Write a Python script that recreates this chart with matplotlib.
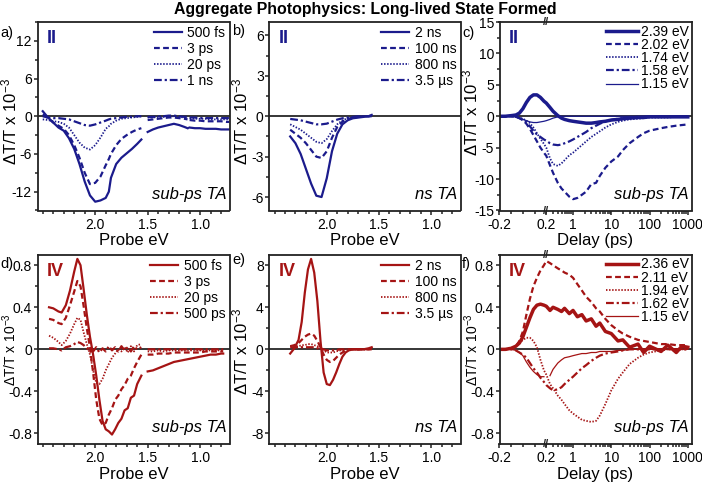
import numpy as np
import matplotlib
matplotlib.use('Agg')
import matplotlib.pyplot as plt
from matplotlib.ticker import FixedLocator, MultipleLocator, NullFormatter, FixedFormatter
import matplotlib.transforms as mtrans

plt.rcParams['font.family'] = ['Liberation Sans', 'DejaVu Sans']
plt.rcParams['mathtext.fontset'] = 'custom'
plt.rcParams['mathtext.rm'] = 'Liberation Sans'
plt.rcParams['mathtext.it'] = 'Liberation Sans:italic'
plt.rcParams['axes.unicode_minus'] = False

nan = np.nan
BLUE = '#1b1b8c'
RED = '#a51414'

# ---------------- data ----------------
# panel a (II, sub-ps TA spectra)
Ea = [2.50, 2.45, 2.40, 2.35, 2.30, 2.25, 2.20, 2.15, 2.10, 2.05, 2.00, 1.95, 1.90, 1.87, 1.85, 1.80, 1.75, 1.70, 1.65, 1.60, 1.56,
      nan, 1.50, 1.45, 1.40, 1.35, 1.30, 1.25, 1.20, 1.15, 1.12,
      nan, 1.10, 1.05, 1.00, 0.95, 0.90, 0.85, 0.80, 0.75, 0.72]
a_500fs = [0.8, -0.2, -1.0, -1.8, -2.3, -3.5, -5.2, -7.6, -10.4, -12.6, -13.6, -13.4, -13.0, -12.0, -9.8, -7.6, -6.6, -5.9, -5.2, -4.4, -3.7,
           nan, -2.5, -2.1, -1.8, -1.6, -1.4, -1.2, -1.4, -1.7, -1.9,
           nan, -1.8, -1.9, -1.9, -2.0, -2.0, -2.0, -2.1, -2.1, -2.1]
a_3ps = [0.3, -0.3, -1.0, -1.5, -2.0, -3.0, -4.6, -6.6, -9.0, -10.8, -10.6, -9.6, -7.8, -6.8, -6.0, -4.6, -3.6, -3.0, -2.5, -2.1, -1.9,
         nan, -0.6, -0.5, -0.4, -0.3, -0.2, -0.2, -0.3, -0.4, -0.5,
         nan, -0.6, -0.7, -0.7, -0.8, -0.8, -0.8, -0.8, -0.9, -0.9]
a_20ps = [-0.5, -0.6, -0.8, -0.9, -1.2, -1.8, -3.0, -4.2, -5.0, -5.3, -4.6, -3.4, -2.0, -1.6, -1.2, -0.7, -0.4, -0.3, -0.2, -0.1, 0.0,
          nan, -0.2, -0.2, -0.1, -0.1, 0.0, 0.0, -0.1, -0.2, -0.2,
          nan, -0.3, -0.4, -0.4, -0.4, -0.5, -0.5, -0.5, -0.5, -0.5]
a_1ns = [0.0, -0.2, -0.3, -0.3, -0.4, -0.5, -0.8, -1.1, -1.4, -1.5, -1.3, -1.0, -0.7, -0.5, -0.4, -0.3, -0.2, -0.1, -0.1, 0.0, 0.0,
         nan, -0.1, -0.1, 0.0, 0.0, 0.1, 0.1, 0.0, -0.1, -0.1,
         nan, -0.2, -0.2, -0.3, -0.3, -0.3, -0.3, -0.3, -0.3, -0.3]
a_labels = ['500 fs', '3 ps', '20 ps', '1 ns']

# panel b (II, ns TA spectra)
Eb = [2.35, 2.30, 2.25, 2.20, 2.15, 2.10, 2.05, 2.00, 1.95, 1.90, 1.85, 1.80, 1.75, 1.70, 1.65, 1.60, 1.57]
b_2ns = [-1.5, -2.0, -2.8, -3.9, -5.0, -5.9, -6.0, -4.6, -2.6, -1.3, -0.6, -0.3, -0.15, -0.1, -0.05, 0.0, 0.1]
b_100ns = [-1.0, -1.3, -1.6, -2.0, -2.5, -3.0, -3.1, -2.6, -1.6, -0.8, -0.4, -0.2, -0.1, -0.05, 0.0, 0.0, 0.05]
b_800ns = [-0.6, -0.8, -1.0, -1.3, -1.6, -1.9, -2.0, -1.7, -1.1, -0.6, -0.3, -0.15, -0.1, -0.05, 0.0, 0.0, 0.0]
b_3p5us = [-0.2, -0.25, -0.3, -0.4, -0.5, -0.6, -0.6, -0.55, -0.4, -0.25, -0.15, -0.1, -0.05, 0.0, 0.0, 0.0, 0.0]
b_labels = ['2 ns', '100 ns', '800 ns', '3.5 µs']

# panel c (II, kinetics)
tc = [-0.2, -0.15, -0.1, -0.06, -0.03, 0.0, 0.03, 0.06, 0.09, 0.12, 0.15, 0.18, 0.2, 0.25, 0.3, 0.4, 0.5, 0.6, 0.8, 1.0,
      1.3, 1.7, 2.2, 3, 4, 5, 7, 10, 15, 20, 30, 50, 70, 100, 200, 300, 500, 700, 1000]
c_239 = [0, 0, 0.1, 0.2, 0.5, 1.2, 2.2, 3.0, 3.4, 3.4, 3.0, 2.4, 2.1, 1.4, 0.8, 0.1, -0.3, -0.5, -0.7, -0.8,
         -0.9, -1.0, -1.1, -1.1, -1.0, -0.9, -0.8, -0.6, -0.5, -0.4, -0.3, -0.2, -0.2, -0.1, -0.1, -0.1, -0.1, -0.1, -0.1]
c_202 = [0, 0, 0, -0.1, -0.3, -0.6, -1.2, -2.0, -3.0, -4.0, -5.0, -5.8, -6.3, -7.8, -9.0, -10.6, -11.5, -12.0, -12.8, -13.2,
         -13.0, -12.5, -12.0, -10.8, -10.6, -9.5, -8.2, -7.2, -6.4, -5.4, -4.3, -3.3, -2.7, -2.3, -1.9, -1.7, -1.5, -1.4, -1.3]
c_174 = [0, 0, 0, -0.1, -0.2, -0.4, -0.7, -1.1, -1.8, -2.7, -3.6, -4.4, -5.0, -6.7, -7.6, -7.9, -7.5, -7.0, -6.2, -5.8,
         -5.2, -4.6, -4.0, -3.3, -2.8, -2.4, -1.8, -1.3, -0.9, -0.7, -0.5, -0.4, -0.3, -0.2, -0.2, -0.2, -0.1, -0.1, -0.1]
c_158 = [0, 0, 0, -0.1, -0.3, -0.6, -1.0, -1.6, -2.3, -2.9, -3.3, -3.7, -3.9, -4.3, -4.5, -4.6, -4.5, -4.3, -4.0, -3.7,
         -3.3, -2.9, -2.5, -1.9, -1.5, -1.2, -0.8, -0.6, -0.4, -0.3, -0.2, -0.1, -0.1, 0, 0, 0, 0, 0, 0]
c_115 = [0, 0, 0, -0.1, -0.3, -0.5, -0.7, -0.9, -1.0, -1.0, -0.9, -0.8, -0.7, -0.5, -0.3, -0.1, 0, 0, 0, 0,
         0, 0, 0, 0, 0, 0, 0, 0, 0, 0, 0, 0, 0, 0, 0, 0, 0, 0, 0]
c_labels = ['2.39 eV', '2.02 eV', '1.74 eV', '1.58 eV', '1.15 eV']

# panel d (IV, sub-ps TA spectra)
Ed = [2.44, 2.40, 2.35, 2.32, 2.28, 2.24, 2.20, 2.17, 2.14, 2.11, 2.08, 2.05, 2.02, 1.99, 1.96, 1.93, 1.90, 1.87, 1.84, 1.81,
      1.78, 1.75, 1.72, 1.69, 1.66, 1.63, 1.60, 1.56,
      nan, 1.50, 1.45, 1.40, 1.35, 1.30, 1.25, 1.20, 1.15, 1.10, 1.05, 1.00, 0.95, 0.90, 0.85, 0.80, 0.78]
d_500fs = [0.40, 0.39, 0.36, 0.35, 0.42, 0.56, 0.74, 0.86, 0.80, 0.57, 0.33, 0.12, -0.05, -0.25, -0.48, -0.68, -0.76, -0.78, -0.81, -0.76,
           -0.70, -0.66, -0.58, -0.56, -0.46, -0.44, -0.33, -0.25,
           nan, -0.21, -0.20, -0.18, -0.16, -0.14, -0.12, -0.11, -0.10, -0.09, -0.08, -0.07, -0.06, -0.05, -0.05, -0.04, -0.04]
d_3ps = [0.29, 0.28, 0.25, 0.24, 0.30, 0.42, 0.55, 0.65, 0.60, 0.41, 0.20, 0.02, -0.22, -0.48, -0.66, -0.72, -0.70, -0.62, -0.56, -0.48,
         -0.44, -0.38, -0.34, -0.28, -0.25, -0.18, -0.12, -0.05,
         nan, -0.05, -0.05, -0.04, -0.04, -0.04, -0.03, -0.03, -0.03, -0.03, -0.03, -0.03, -0.02, -0.02, -0.02, -0.02, -0.02]
d_20ps = [0.13, 0.11, 0.07, 0.04, 0.08, 0.15, 0.24, 0.30, 0.28, 0.16, 0.05, -0.05, -0.20, -0.32, -0.33, -0.28, -0.20, -0.14, -0.08, -0.04,
          0.00, -0.02, 0.02, -0.03, 0.03, -0.02, 0.04, 0.05,
          nan, -0.02, -0.02, -0.01, -0.02, -0.01, -0.01, -0.01, -0.01, -0.01, -0.01, -0.01, -0.01, -0.01, -0.01, -0.01, -0.01]
d_500ps = [0.01, 0.01, 0.00, -0.01, 0.02, 0.03, 0.05, 0.07, 0.06, 0.04, 0.01, -0.01, -0.02, 0.02, -0.03, 0.01, -0.02, 0.03, -0.01, 0.02,
           -0.02, 0.03, -0.01, 0.02, -0.02, 0.03, 0.00, 0.02,
           nan, 0.00, 0.00, 0.00, 0.00, 0.00, 0.00, 0.00, 0.00, 0.00, 0.00, 0.00, 0.00, 0.00, 0.00, 0.00, 0.00]
d_labels = ['500 fs', '3 ps', '20 ps', '500 ps']

# panel e (IV, ns TA spectra)
Ee = [2.35, 2.31, 2.27, 2.24, 2.21, 2.18, 2.15, 2.12, 2.09, 2.06, 2.03, 2.00, 1.97, 1.94, 1.91, 1.88, 1.85, 1.82, 1.79,
      1.75, 1.70, 1.65, 1.60, 1.57]
e_2ns = [-0.4, 0.1, 0.9, 2.6, 5.4, 7.6, 8.6, 7.3, 4.6, 0.8, -2.2, -3.3, -3.4, -2.9, -2.2, -1.4, -0.7, -0.3, -0.1,
         0.0, 0.0, 0.0, 0.1, 0.2]
e_100ns = [0.3, 0.4, 0.6, 0.9, 1.2, 1.4, 1.5, 1.3, 0.8, 0.2, -0.5, -1.0, -1.2, -1.1, -0.8, -0.5, -0.3, -0.1, 0.0,
           0.0, 0.0, 0.0, 0.0, 0.0]
e_800ns = [0.3, 0.3, 0.3, 0.4, 0.4, 0.5, 0.5, 0.4, 0.3, 0.1, -0.1, -0.3, -0.3, -0.3, -0.2, -0.1, -0.1, 0.0, 0.0,
           0.0, 0.0, 0.0, 0.0, 0.1]
e_3p5us = [0.2, 0.2, 0.2, 0.2, 0.2, 0.2, 0.2, 0.2, 0.1, 0.1, 0.0, -0.1, -0.1, -0.1, -0.1, 0.0, 0.0, 0.0, 0.0,
           0.0, 0.0, 0.0, 0.0, 0.1]
e_labels = ['2 ns', '100 ns', '800 ns', '3.5 µs']

# panel f (IV, kinetics)
tf = tc
f_236 = [0, 0, 0.01, 0.03, 0.06, 0.12, 0.21, 0.30, 0.38, 0.42, 0.43, 0.42, 0.41, 0.37, 0.40, 0.38, 0.36, 0.39, 0.34, 0.37,
         0.31, 0.33, 0.27, 0.29, 0.22, 0.25, 0.17, 0.15, 0.08, 0.09, 0.02, 0.05, -0.03, 0.03, -0.02, 0.04, -0.03, 0.03, 0.02]
f_211 = [0, 0, 0.01, 0.03, 0.08, 0.17, 0.33, 0.48, 0.60, 0.68, 0.75, 0.80, 0.84, 0.82, 0.80, 0.77, 0.75, 0.73, 0.71, 0.68,
         0.62, 0.56, 0.50, 0.45, 0.39, 0.36, 0.29, 0.23, 0.18, 0.15, 0.12, 0.09, 0.08, 0.07, 0.05, 0.05, 0.04, 0.04, 0.04]
f_194 = [0, 0, 0.01, 0.03, 0.06, 0.09, 0.11, 0.11, 0.08, 0.02, -0.10, -0.20, -0.24, -0.33, -0.37, -0.44, -0.48, -0.52, -0.58, -0.61,
         -0.64, -0.67, -0.68, -0.69, -0.68, -0.63, -0.52, -0.39, -0.28, -0.22, -0.14, -0.08, -0.05, -0.03, -0.01, 0, 0, 0, 0]
f_162 = [0, 0, 0, -0.01, -0.03, -0.05, -0.08, -0.13, -0.18, -0.22, -0.27, -0.31, -0.34, -0.37, -0.39, -0.38, -0.36, -0.33, -0.29, -0.26,
         -0.22, -0.18, -0.15, -0.11, -0.08, -0.06, -0.04, -0.03, -0.02, -0.01, 0, 0, 0, 0, 0, 0, 0, 0, 0]
f_115 = [0, 0, 0, -0.01, -0.03, -0.06, -0.12, -0.17, -0.21, -0.24, -0.26, -0.26, nan, -0.25, -0.19, -0.13, -0.10, -0.08, -0.07, -0.06,
         -0.05, -0.04, -0.04, -0.03, -0.03, -0.02, -0.02, -0.02, -0.01, -0.01, 0, 0, 0, 0, 0, 0, 0, 0, 0]
f_labels = ['2.36 eV', '2.11 eV', '1.94 eV', '1.62 eV', '1.15 eV']

# ---------------- styles ----------------
SOLID = dict(ls='-', lw=1.6)
DASH = dict(ls=(0, (2.6, 1.5)), lw=1.6)
DOT = dict(ls=(0, (0.8, 0.9)), lw=1.3)
DASHDOT = dict(ls=(0, (3.5, 1.3, 1.0, 1.3)), lw=1.6)
THICK = dict(ls='-', lw=2.5)
THIN = dict(ls='-', lw=0.9)

W, H = 702, 482
fig = plt.figure(figsize=(W / 100, H / 100), dpi=100)


def add_ax(l, t, r, b):
    return fig.add_axes([l / W, 1 - b / H, (r - l) / W, (b - t) / H])


cols = [(37.5, 229.5), (269.3, 460.5), (499.5, 691.5)]
rows = [(22, 210.5), (254.7, 444)]

K = 0.327


def fwd(x):
    x = np.asarray(x, dtype=float)
    return np.where(x <= 0.2, x, 0.2 + K * np.log10(np.maximum(x, 0.2) / 0.2))


def inv(y):
    y = np.asarray(y, dtype=float)
    return np.where(y <= 0.2, y, 0.2 * 10 ** ((y - 0.2) / K))


def style_common(ax):
    for s in ax.spines.values():
        s.set_linewidth(1.3)
        s.set_color('#222222')
    ax.tick_params(which='both', direction='out', top=False, right=False, labelsize=10, width=1.1, colors='#222222',
                   labelcolor='black')
    ax.tick_params(axis='x', which='both', pad=2)
    ax.tick_params(axis='y', which='both', pad=0.8)
    ax.tick_params(which='major', length=3.2)
    ax.tick_params(which='minor', length=2)
    ax.axhline(0, color='black', lw=1.1, zorder=1)


def spectral_axes(ax, ylim, yticks, yminor, ylabels):
    ax.set_xlim(2.55, 0.72)
    ax.xaxis.set_major_locator(FixedLocator([2.0, 1.5, 1.0]))
    ax.xaxis.set_major_formatter(FixedFormatter(['2.0', '1.5', '1.0']))
    ax.xaxis.set_minor_locator(MultipleLocator(0.1))
    ax.set_ylim(*ylim)
    ax.yaxis.set_major_locator(FixedLocator(yticks))
    ax.yaxis.set_major_formatter(FixedFormatter(ylabels))
    ax.yaxis.set_minor_locator(MultipleLocator(yminor))
    ax.set_xlabel('Probe eV', fontsize=12, labelpad=1)


def kinetic_axes(ax, ylim, yticks, yminor, ylabels):
    ax.set_xscale('function', functions=(fwd, inv))
    ax.set_xlim(-0.2, 1250)
    ax.xaxis.set_major_locator(FixedLocator([-0.2, 0.2, 1, 10, 100, 1000]))
    ax.xaxis.set_major_formatter(FixedFormatter(['-0.2', '0.2', '1', '10', '100', '1000']))
    minors = [-0.1, 0.0, 0.1]
    for dec in [0.1, 1, 10, 100]:
        for m in range(2, 10):
            v = m * dec
            if 0.2 < v < 1250:
                minors.append(v)
    ax.xaxis.set_minor_locator(FixedLocator(minors))
    ax.xaxis.set_minor_formatter(NullFormatter())
    ax.set_ylim(*ylim)
    ax.yaxis.set_major_locator(FixedLocator(yticks))
    ax.yaxis.set_major_formatter(FixedFormatter(ylabels))
    ax.yaxis.set_minor_locator(MultipleLocator(yminor))
    ax.set_xlabel('Delay (ps)', fontsize=12, labelpad=1)
    tr = mtrans.blended_transform_factory(ax.transData, ax.transAxes)
    for yy in (1.0, 0.0):
        ax.text(0.2, yy, '//', transform=tr, ha='center', va='center', fontsize=8, fontweight='bold',
                color='#222222', clip_on=False, zorder=5)


def decorate(ax, letter, roman, color, method, ylabel_x, ylabel_y, letter_y, ylabel_size=12):
    ax.text(-0.195, letter_y, letter, transform=ax.transAxes, fontsize=10.5, ha='left', va='center')
    ax.text(0.05, 0.91, roman, transform=ax.transAxes, fontsize=13, fontweight='bold', color=color,
            ha='left', va='center')
    ax.text(0.985, 0.045, method, transform=ax.transAxes, fontsize=12, style='italic', ha='right', va='bottom')
    ax.set_ylabel(r'$\Delta$T/T x 10$^{-3}$', fontsize=ylabel_size)
    ax.yaxis.set_label_coords(ylabel_x, ylabel_y)


def legend(ax, spacing, hl, htp, bap=0.1):
    ax.legend(loc='upper right', bbox_to_anchor=(1.0, 1.0), frameon=False, fontsize=10, labelspacing=spacing,
              handlelength=hl, handletextpad=htp, borderaxespad=bap, borderpad=0.2)


# ---- a
ax = add_ax(cols[0][0], rows[0][0], cols[0][1], rows[0][1])
style_common(ax)
for y, st, lab in zip([a_500fs, a_3ps, a_20ps, a_1ns], [SOLID, DASH, DOT, DASHDOT], a_labels):
    ax.plot(Ea, y, color=BLUE, label=lab, **st)
spectral_axes(ax, (-15, 15), [-12, -6, 0, 6, 12], 3, ['-12', '-6', '0', '6', '12'])
decorate(ax, 'a)', 'II', BLUE, 'sub-ps TA', -0.095, 0.47, 0.94)
legend(ax, 0.14, 2.0, 0.4)

# ---- b
ax = add_ax(cols[1][0], rows[0][0], cols[1][1], rows[0][1])
style_common(ax)
for y, st, lab in zip([b_2ns, b_100ns, b_800ns, b_3p5us], [SOLID, DASH, DOT, DASHDOT], b_labels):
    ax.plot(Eb, y, color=BLUE, label=lab, **st)
spectral_axes(ax, (-7, 7), [-6, -3, 0, 3, 6], 1.5, ['-6', '-3', '0', '3', '6'])
decorate(ax, 'b)', 'II', BLUE, 'ns TA', -0.1, 0.47, 0.95)
legend(ax, 0.14, 2.0, 0.4)

# ---- c
ax = add_ax(cols[2][0], rows[0][0], cols[2][1], rows[0][1])
style_common(ax)
for y, st, lab in zip([c_239, c_202, c_174, c_158, c_115], [THICK, DASH, DOT, DASHDOT, THIN], c_labels):
    ax.plot(tc, y, color=BLUE, label=lab, **st)
kinetic_axes(ax, (-15, 15), [-15, -10, -5, 0, 5, 10, 15], 2.5, ['-15', '-10', '-5', '0', '5', '10', '15'])
decorate(ax, 'c)', 'II', BLUE, 'sub-ps TA', -0.1, 0.52, 0.94)
legend(ax, -0.06, 2.3, 0.2, 0.0)

# ---- d
ax = add_ax(cols[0][0], rows[1][0], cols[0][1], rows[1][1])
style_common(ax)
for y, st, lab in zip([d_500fs, d_3ps, d_20ps, d_500ps], [SOLID, DASH, DOT, DASHDOT], d_labels):
    ax.plot(Ed, y, color=RED, label=lab, **st)
spectral_axes(ax, (-0.9, 0.9), [-0.8, -0.4, 0, 0.4, 0.8], 0.2, ['-0.8', '-0.4', '0', '0.4', '0.8'])
decorate(ax, 'd)', 'IV', RED, 'sub-ps TA', -0.095, 0.5, 0.95, ylabel_size=10)
legend(ax, 0.14, 2.0, 0.4)

# ---- e
ax = add_ax(cols[1][0], rows[1][0], cols[1][1], rows[1][1])
style_common(ax)
for y, st, lab in zip([e_2ns, e_100ns, e_800ns, e_3p5us], [SOLID, DASH, DOT, DASHDOT], e_labels):
    ax.plot(Ee, y, color=RED, label=lab, **st)
spectral_axes(ax, (-9, 9), [-8, -4, 0, 4, 8], 2, ['-8', '-4', '0', '4', '8'])
decorate(ax, 'e)', 'IV', RED, 'ns TA', -0.1, 0.49, 0.97)
legend(ax, 0.14, 2.0, 0.4)

# ---- f
ax = add_ax(cols[2][0], rows[1][0], cols[2][1], rows[1][1])
style_common(ax)
for y, st, lab in zip([f_236, f_211, f_194, f_162, f_115], [THICK, DASH, DOT, DASHDOT, THIN], f_labels):
    ax.plot(tf, y, color=RED, label=lab, **st)
kinetic_axes(ax, (-0.9, 0.9), [-0.8, -0.4, 0, 0.4, 0.8], 0.2, ['-0.8', '-0.4', '0', '0.4', '0.8'])
decorate(ax, 'f)', 'IV', RED, 'sub-ps TA', -0.095, 0.5, 0.95, ylabel_size=10)
legend(ax, -0.06, 2.3, 0.2, 0.0)

fig.text(0.52, 0.981, 'Aggregate Photophysics: Long-lived State Formed', ha='center', va='center',
         fontsize=11.4, fontweight='bold')

fig.savefig('out.png', dpi=100)
